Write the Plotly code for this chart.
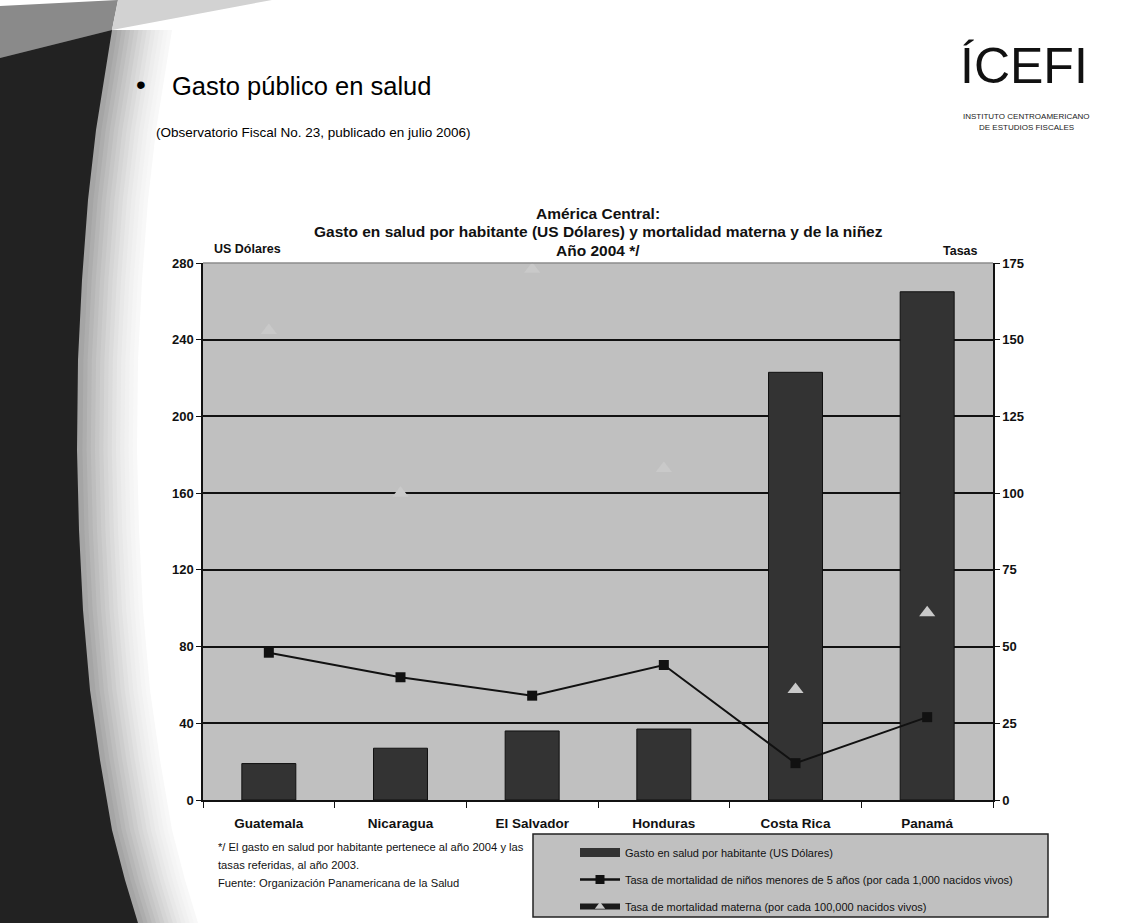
import plotly.graph_objects as go

# ---------------- data ----------------
paises = ["Guatemala", "Nicaragua", "El Salvador", "Honduras", "Costa Rica", "Panamá"]
gasto_salud = [19, 27, 36, 37, 223, 265]          # US Dólares por habitante (eje izq.)
mort_ninez = [48, 40, 34, 44, 12, 27]             # por cada 1,000 nacidos vivos (eje der.)
mort_materna = [153, 100, 173, 108, 36, 61]       # por cada 100,000 nacidos vivos (eje der.)

nombre_gasto = "Gasto en salud por habitante (US Dólares)"
nombre_ninez = "Tasa de mortalidad de niños menores de 5 años (por cada 1,000 nacidos vivos)"
nombre_materna = "Tasa de mortalidad materna (por cada 100,000 nacidos vivos)"

y_left_ticks = [0, 40, 80, 120, 160, 200, 240, 280]
y_right_ticks = [0, 25, 50, 75, 100, 125, 150, 175]

# ---------------- geometry helpers (page pixels -> paper) ----------------
W, H = 1144, 923
FIG_H = 960          # a bit taller than the window so the legend never squeezes the plot
L, R, T, B = 203, 993, 263, 800
PW, PH = R - L, B - T


def px(x):
    return (x - L) / PW


def py(y):
    return (B - y) / PH


def path(points):
    s = "M " + " L ".join(f"{px(a):.5f},{py(b):.5f}" for a, b in points) + " Z"
    return s


FONT = "Liberation Sans Narrow, Arial Narrow, Liberation Sans, Arial, sans-serif"

fig = go.Figure()

# bars
fig.add_trace(go.Bar(
    x=paises, y=gasto_salud, name=nombre_gasto, showlegend=False,
    marker=dict(color="#333333", line=dict(color="#111111", width=1)),
    width=0.41, yaxis="y",
))
# maternal mortality triangles
fig.add_trace(go.Scatter(
    x=paises, y=mort_materna, mode="markers", name=nombre_materna, showlegend=False,
    marker=dict(symbol="triangle-up", size=14, color="#c9c9c9"), yaxis="y2",
    cliponaxis=False,
))
# child mortality line
fig.add_trace(go.Scatter(
    x=paises, y=mort_ninez, mode="lines+markers", name=nombre_ninez, showlegend=False,
    line=dict(color="#111111", width=2),
    marker=dict(symbol="square", size=10, color="#111111"), yaxis="y2",
))

# legend entries
fig.add_trace(go.Scatter(
    x=[None], y=[None], mode="lines", name=nombre_gasto, legendgroup="a",
    line=dict(color="#333333", width=9), yaxis="y2",
))
fig.add_trace(go.Scatter(
    x=[None], y=[None], mode="lines+markers", name=nombre_ninez, legendgroup="b",
    line=dict(color="#111111", width=2.5),
    marker=dict(symbol="square", size=9, color="#111111"), yaxis="y2",
))
fig.add_trace(go.Scatter(
    x=[None], y=[None], mode="lines+markers", name=nombre_materna, legendgroup="c",
    line=dict(color="#1a1a1a", width=6),
    marker=dict(symbol="triangle-up", size=9, color="#c8c8c8"), yaxis="y2",
))

# ---------------- decorations (slide background) ----------------
boundary = [(112, 30), (104, 80), (96, 130), (88, 200), (82, 280), (78, 360), (77, 450),
            (79, 530), (83, 610), (90, 690), (100, 760), (112, 830), (125, 880), (138, 923),
            (150, 960)]
shapes = []
steps = 14
for i in range(steps):
    d = 60 - i * 4.2
    g = int(248 - (248 - 165) * (i / (steps - 1)) ** 1.4)
    col = f"rgb({g},{g},{g})"
    halo = [(0, 30)] + [(x + d, y) for x, y in boundary] + [(0, 960)]
    shapes.append(dict(type="path", xref="paper", yref="paper", path=path(halo),
                       fillcolor=col, line=dict(width=0), layer="below"))
shapes.append(dict(type="path", xref="paper", yref="paper",
                   path=path([(0, 6), (118, 0), (112, 30), (0, 58)]),
                   fillcolor="#8a8a8a", line=dict(width=0), layer="below"))
shapes.append(dict(type="path", xref="paper", yref="paper",
                   path=path([(112, 30), (118, 0), (272, 0)]),
                   fillcolor="#d2d2d2", line=dict(width=0), layer="below"))
shapes.append(dict(type="path", xref="paper", yref="paper",
                   path=path([(0, 58)] + boundary + [(0, 960)]),
                   fillcolor="#222222", line=dict(width=0), layer="below"))
# plot top border
shapes.append(dict(type="line", xref="paper", yref="paper", x0=0, x1=1, y0=1, y1=1,
                   line=dict(color="#8c8c8c", width=1.5)))
# legend box
shapes.append(dict(type="rect", xref="paper", yref="paper",
                   x0=px(533), x1=px(1048), y0=py(834), y1=py(917),
                   fillcolor="#c0c0c0", line=dict(color="#222222", width=1.5)))

ann = []


def add_text(text, x, y, size, xanchor="center", yanchor="middle", bold=False,
             color="#111111", family=FONT):
    ann.append(dict(text=text, x=px(x), y=py(y), xref="paper", yref="paper",
                    xanchor=xanchor, yanchor=yanchor, showarrow=False,
                    font=dict(size=size, color=color, family=family,
                              weight="bold" if bold else "normal")))


# slide title
add_text("•", 141, 84, 28, color="#000000")
add_text("Gasto público en salud", 170, 86, 25.5, xanchor="left", color="#000000")
add_text("(Observatorio Fiscal No. 23, publicado en julio 2006)", 154, 133, 13.5,
         xanchor="left", color="#000000")
# logo
add_text("ÍCEFI", 1024, 66, 50, color="#111111")
add_text("INSTITUTO CENTROAMERICANO", 1026, 117, 8, color="#222222")
add_text("DE ESTUDIOS FISCALES", 1026, 127, 8, color="#222222")
# chart title
add_text("América Central:", 598, 213, 15.5, bold=True)
add_text("Gasto en salud por habitante (US Dólares) y mortalidad materna y de la niñez",
         598, 231, 15.5, bold=True)
add_text("Año 2004 */", 598, 250, 15.5, bold=True)
add_text("US Dólares", 247, 249, 12.5, bold=True)
add_text("Tasas", 960, 251, 12.5, bold=True)
# footnote
add_text("*/ El gasto en salud por habitante pertenece al año 2004 y las", 216, 847, 11.2,
         xanchor="left")
add_text("tasas referidas, al año 2003.", 216, 865, 11.2, xanchor="left")
add_text("Fuente: Organización Panamericana de la Salud", 216, 883, 11.2, xanchor="left")

fig.update_layout(
    width=W, height=FIG_H,
    margin=dict(l=L, r=W - R, t=T, b=FIG_H - B),
    paper_bgcolor="#ffffff",
    plot_bgcolor="#c0c0c0",
    font=dict(family=FONT, color="#111111"),
    bargap=0.59,
    showlegend=True,
    legend=dict(x=px(575), y=py(838), xanchor="left", yanchor="top",
                bgcolor="rgba(0,0,0,0)", borderwidth=0, itemwidth=40,
                tracegroupgap=8, traceorder="grouped",
                font=dict(size=11, family=FONT, color="#111111")),
    xaxis=dict(type="category", categoryorder="array", categoryarray=paises,
               range=[-0.5, 5.5], tickson="boundaries", ticks="outside", ticklen=6,
               tickcolor="#111111", tickwidth=1.2, showline=True, linecolor="#111111",
               linewidth=1.5, showgrid=False, zeroline=False, ticklabelstandoff=10,
               tickfont=dict(size=13.5, family=FONT, weight="bold", color="#111111")),
    yaxis=dict(range=[0, 280], tickvals=y_left_ticks, ticks="outside", ticklen=5,
               tickcolor="#111111", showline=True, linecolor="#111111", linewidth=1.5,
               showgrid=True, gridcolor="#111111", gridwidth=1.5, zeroline=False,
               tickfont=dict(size=13, family=FONT, weight="bold", color="#111111")),
    yaxis2=dict(range=[0, 175], tickvals=y_right_ticks, overlaying="y", side="right",
                ticks="outside", ticklen=5, tickcolor="#111111", showline=True,
                linecolor="#111111", linewidth=1.5, showgrid=False, zeroline=False,
                tickfont=dict(size=13, family=FONT, weight="bold", color="#111111")),
    shapes=shapes,
    annotations=ann,
)

fig.write_html("out.html", config={"displayModeBar": False},
               post_script="document.body.style.margin='0';document.body.style.overflow='hidden';")
